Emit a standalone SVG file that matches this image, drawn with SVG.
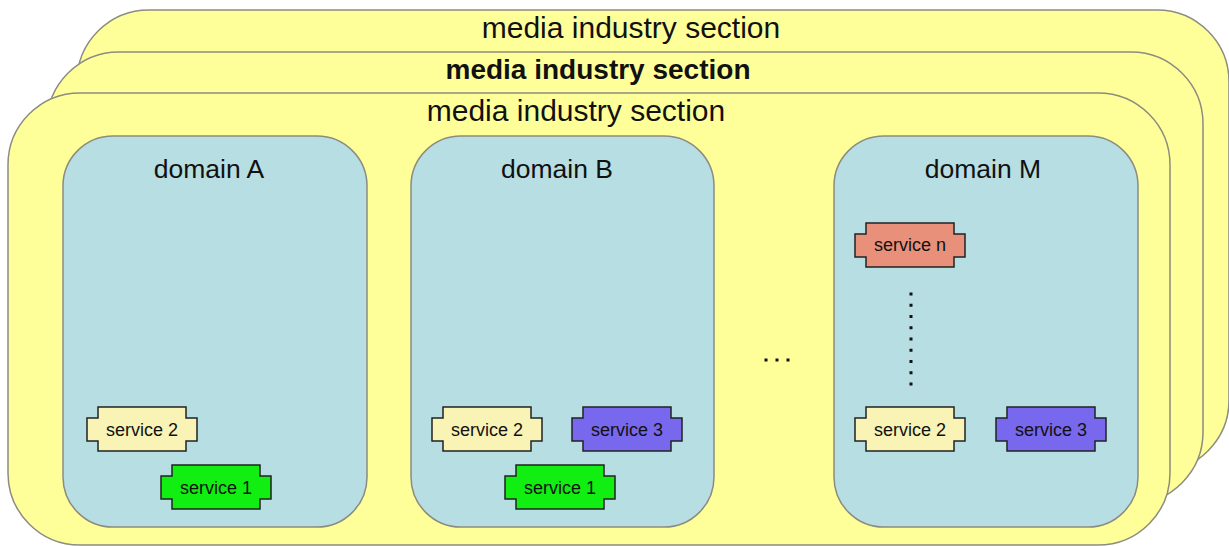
<svg xmlns="http://www.w3.org/2000/svg" xmlns:xlink="http://www.w3.org/1999/xlink" width="1229" height="546" viewBox="0 0 1229 546">
<style>
.card{fill:#ffff99;stroke:#8c8c80;stroke-width:1.5}
.dom{fill:#b7dee2;stroke:#8c8c80;stroke-width:1.5}
.title{font-family:"Liberation Sans",Arial,sans-serif;font-size:30px;fill:#111;text-anchor:middle}
.titleb{font-family:"Liberation Sans",Arial,sans-serif;font-size:28px;font-weight:bold;fill:#111;text-anchor:middle}
.dtxt{font-family:"Liberation Sans",Arial,sans-serif;font-size:26.5px;fill:#111;text-anchor:middle}
.stxt{font-family:"Liberation Sans",Arial,sans-serif;font-size:18px;fill:#111;text-anchor:middle}
.svc{stroke:#222;stroke-width:1.5}
.s1{fill:#11ee11}.s2{fill:#f9f4b6}.s3{fill:#7868ee}.sn{fill:#e8907a}
.dot{fill:#111}
</style>
<defs>
<path id="svc" d="M0,0 H88 V11 H99 V34 H88 V44 H0 V34 H-11 V11 H0 Z"/>
</defs>
<g id="section-back">
<rect class="card" x="77" y="10" width="1152" height="462" rx="72"/>
<text class="title" x="631" y="38">media industry section</text>
</g>
<g id="section-middle">
<rect class="card" x="47" y="52" width="1156" height="452" rx="72"/>
<text class="titleb" x="598" y="79">media industry section</text>
</g>
<g id="section-front">
<rect class="card" x="8" y="93" width="1162" height="452" rx="72"/>
<text class="title" x="576" y="121">media industry section</text>
</g>
<g id="domain-a">
<rect class="dom" x="63" y="136" width="304" height="391" rx="50"/>
<text class="dtxt" x="209" y="178">domain A</text>
</g>
<g id="domain-b">
<rect class="dom" x="411" y="136" width="303" height="391" rx="50"/>
<text class="dtxt" x="557" y="178">domain B</text>
</g>
<g id="domain-m">
<rect class="dom" x="834" y="136" width="304" height="391" rx="50"/>
<text class="dtxt" x="983" y="178">domain M</text>
</g>
<g id="a-service2"><use href="#svc" x="98" y="407" class="svc s2"/><text class="stxt" x="142" y="436">service 2</text></g>
<g id="a-service1"><use href="#svc" x="172" y="465" class="svc s1"/><text class="stxt" x="216" y="494">service 1</text></g>
<g id="b-service2"><use href="#svc" x="443" y="407" class="svc s2"/><text class="stxt" x="487" y="436">service 2</text></g>
<g id="b-service3"><use href="#svc" x="583" y="407" class="svc s3"/><text class="stxt" x="627" y="436">service 3</text></g>
<g id="b-service1"><use href="#svc" x="516" y="465" class="svc s1"/><text class="stxt" x="560" y="494">service 1</text></g>
<g id="m-servicen"><use href="#svc" x="866" y="223" class="svc sn"/><text class="stxt" x="910" y="251">service n</text></g>
<g id="m-service2"><use href="#svc" x="866" y="407" class="svc s2"/><text class="stxt" x="910" y="436">service 2</text></g>
<g id="m-service3"><use href="#svc" x="1007" y="407" class="svc s3"/><text class="stxt" x="1051" y="436">service 3</text></g>
<g id="connectors">
<g id="vdots">
<rect class="dot" x="909.5" y="292.5" width="3" height="3"/>
<rect class="dot" x="909.5" y="303.75" width="3" height="3"/>
<rect class="dot" x="909.5" y="315" width="3" height="3"/>
<rect class="dot" x="909.5" y="326.25" width="3" height="3"/>
<rect class="dot" x="909.5" y="337.5" width="3" height="3"/>
<rect class="dot" x="909.5" y="348.75" width="3" height="3"/>
<rect class="dot" x="909.5" y="360" width="3" height="3"/>
<rect class="dot" x="909.5" y="371.25" width="3" height="3"/>
<rect class="dot" x="909.5" y="382.5" width="3" height="3"/>
</g>
<g id="hdots">
<rect class="dot" x="764.5" y="358.5" width="3" height="3"/>
<rect class="dot" x="775.5" y="358.5" width="3" height="3"/>
<rect class="dot" x="786.5" y="358.5" width="3" height="3"/>
</g>
</g>
</svg>
